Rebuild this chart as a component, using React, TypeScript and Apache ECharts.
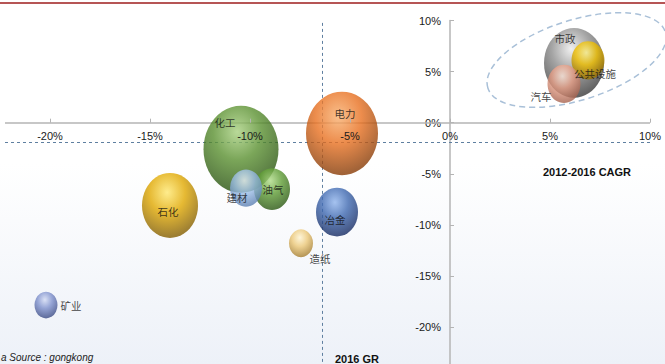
import React, { useEffect, useRef } from "react";
import * as echarts from "echarts";

// ---- data ----
const industries = ["化工", "电力", "石化", "油气", "建材", "冶金", "造纸", "矿业", "市政", "公共设施", "汽车"];
const growth2016 = [-10.45, -5.4, -14.0, -8.9, -10.2, -5.65, -7.45, -20.2, 6.2, 6.9, 5.7];
const cagr2012to2016 = [-2.6, -1.05, -8.1, -6.5, -6.4, -8.75, -11.8, -17.85, 5.85, 6.1, 3.8];
const marketSize = [75, 72, 56, 36, 32, 42, 24, 23, 60, 33, 33];
const xTickValues = [-20, -15, -10, -5, 0, 5, 10];
const yTickValues = [-20, -15, -10, -5, 0, 5, 10];
const avgGrowth = -6.4;
const avgCagr = -1.9;
const highlightCenter = [6.33, 6.13];

// ---- styles ----
const palette: Record<string, [string, string, string]> = {
  化工: ["#a8d080", "#5a9030", "#2a5410"],
  电力: ["#f8b070", "#e87020", "#8a3c06"],
  石化: ["#ffe870", "#e0a800", "#866000"],
  油气: ["#b0dc88", "#5e9c34", "#2c5a12"],
  建材: ["#eaf2fc", "#9fc0e8", "#5e82b4"],
  冶金: ["#90b4ec", "#3e68b0", "#162c64"],
  造纸: ["#fff4d0", "#ecc878", "#a88030"],
  矿业: ["#d4dcf4", "#7e90cc", "#3c4c86"],
  市政: ["#ececec", "#8e8e8e", "#3c3c3c"],
  公共设施: ["#fff490", "#f0c000", "#987000"],
  汽车: ["#fde8dc", "#e8a088", "#a86450"],
};
const labelOffsets: Record<string, [number, number]> = {
  化工: [-16, -27],
  电力: [3, -20],
  石化: [-2, 6],
  油气: [1, 0],
  建材: [-9, 9],
  冶金: [-2, 7],
  造纸: [19, 15],
  矿业: [25, 0],
  市政: [-9, -24],
  公共设施: [7, 13],
  汽车: [-23, 13],
};
const aspect = 1.16;
const axisColor = "#b4b4b4";
const axisFont = "'Liberation Sans Narrow', 'Liberation Sans', Arial, sans-serif";
const cjkFont = "'Noto Sans CJK SC', 'Liberation Sans', sans-serif";
const GRID = { left: 5, right: 15, top: 20.5, bottom: -3.9 };

export default function App() {
  const ref = useRef<HTMLDivElement>(null);
  useEffect(() => {
    if (!ref.current) return;
    const chart = echarts.init(ref.current, null, { renderer: "svg" });

    const data = industries.map((name, i) => {
      const [hi, mid, dark] = palette[name];
      return {
        name,
        value: [growth2016[i], cagr2012to2016[i], marketSize[i]],
        symbolSize: [marketSize[i], marketSize[i] * aspect],
        itemStyle: {
          color: {
            type: "radial",
            x: 0.45,
            y: 0.3,
            r: 0.8,
            colorStops: [
              { offset: 0, color: hi },
              { offset: 0.4, color: mid },
              { offset: 0.85, color: dark },
              { offset: 1, color: dark },
            ],
          },
        },
        label: { offset: labelOffsets[name] },
      };
    });

    chart.setOption({
      animation: false,
      backgroundColor: {
        type: "linear",
        x: 0,
        y: 0,
        x2: 0,
        y2: 1,
        colorStops: [
          { offset: 0, color: "#ffffff" },
          { offset: 0.45, color: "#ffffff" },
          { offset: 1, color: "#edf1f8" },
        ],
      },
      grid: { ...GRID, containLabel: false, outerBoundsMode: "none" },
      xAxis: {
        type: "value",
        position: "bottom",
        min: -22.25,
        max: 10,
        z: 10,
        splitLine: { show: false },
        axisLine: { show: true, onZero: false, lineStyle: { color: "rgba(0,0,0,0)" } },
        axisTick: { show: true, inside: true, length: 4, customValues: xTickValues, lineStyle: { color: axisColor } },
        axisLabel: {
          show: true,
          customValues: xTickValues,
          formatter: (v: number) => `${v}%`,
          color: "#1a1a1a",
          fontSize: 11,
          fontFamily: axisFont,
          margin: 8,
        },
      },
      yAxis: {
        type: "value",
        position: "left",
        min: -24,
        max: 10,
        splitLine: { show: false },
        axisLine: { show: true, onZero: false, lineStyle: { color: axisColor, width: 1.5 } },
        axisTick: { show: true, inside: true, length: 4, customValues: yTickValues, lineStyle: { color: axisColor } },
        axisLabel: {
          customValues: yTickValues,
          formatter: (v: number) => `${v}%`,
          color: "#1a1a1a",
          fontSize: 11,
          fontFamily: axisFont,
          margin: 9,
        },
      },
      series: [
        {
          type: "scatter",
          z: 2,
          data,
          label: {
            show: true,
            position: "inside",
            formatter: (p: any) => p.name,
            color: "#111",
            fontSize: 10.5,
            fontFamily: cjkFont,
          },
          markLine: {
            silent: true,
            symbol: "none",
            z: 1,
            label: { show: false },
            lineStyle: { type: [3, 3], color: "#5f7fa0", width: 1 },
            data: [
              { yAxis: 0, lineStyle: { type: "solid", color: axisColor, width: 1.5 } },
              { xAxis: avgGrowth },
              { yAxis: avgCagr },
            ],
          },
        },
      ],
    });

    // move the axes onto the zero lines
    const [zeroX, zeroY] = chart.convertToPixel({ gridIndex: 0 }, [0, 0]) as number[];
    const gridBottomPx = chart.getHeight() - GRID.bottom;
    const [cx, cy] = chart.convertToPixel({ gridIndex: 0 }, highlightCenter) as number[];
    chart.setOption({
      xAxis: { offset: -(gridBottomPx - zeroY) },
      yAxis: { offset: -(zeroX - GRID.left) },
      graphic: [
        {
          type: "line",
          shape: { x1: 0, y1: 3, x2: 665, y2: 3 },
          style: { stroke: "#9e1c1c", lineWidth: 1.5 },
          z: 20,
        },
        {
          type: "ellipse",
          x: cx,
          y: cy,
          rotation: 0.306,
          shape: { cx: 0, cy: 0, rx: 93, ry: 40 },
          style: { fill: "none", stroke: "#a9c0d8", lineWidth: 1.5, lineDash: [6, 4] },
          z: 20,
        },
        {
          type: "text",
          x: 587,
          y: 172,
          style: {
            text: "2012-2016 CAGR",
            fill: "#111",
            font: `bold 11px ${axisFont}`,
            align: "center",
            verticalAlign: "middle",
          },
          z: 20,
        },
        {
          type: "text",
          x: 357,
          y: 359,
          style: {
            text: "2016 GR",
            fill: "#111",
            font: `bold 11px ${axisFont}`,
            align: "center",
            verticalAlign: "middle",
          },
          z: 20,
        },
        {
          type: "text",
          x: 1,
          y: 357,
          style: {
            text: "a Source : gongkong",
            fill: "#222",
            font: `italic 10px ${axisFont}`,
            align: "left",
            verticalAlign: "middle",
          },
          z: 20,
        },
      ],
    });

    return () => chart.dispose();
  }, []);
  return <div ref={ref} style={{ position: "fixed", left: 0, top: 0, width: 665, height: 364 }} />;
}
